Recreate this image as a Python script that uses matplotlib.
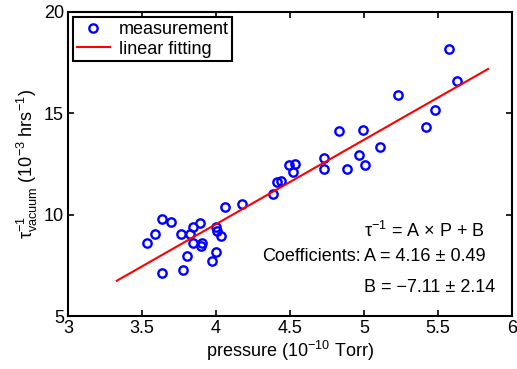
#!/usr/bin/python

import numpy as np
import matplotlib
matplotlib.use("Agg")
import matplotlib.pyplot as plt

plt.rcParams["font.family"] = ["Liberation Sans", "DejaVu Sans"]
plt.rcParams["mathtext.fontset"] = "custom"
plt.rcParams["mathtext.rm"] = "Liberation Sans"
plt.rcParams["mathtext.it"] = "Liberation Sans:italic"
plt.rcParams["mathtext.default"] = "regular"

FS = 13

# measured points (pressure in 1e-10 Torr, rate in 1e-3 / hrs)
pressure = [3.536, 3.586, 3.635, 3.698, 3.635, 3.777, 3.767, 3.807, 3.826, 3.848,
            3.889, 3.846, 3.909, 3.897, 4.000, 4.007, 4.037, 4.000, 3.976, 4.061,
            4.179, 4.387, 4.414, 4.437, 4.491, 4.532, 4.518, 4.730, 4.730, 4.829,
            4.887, 4.991, 4.968, 5.009, 5.111, 5.230, 5.482, 5.419, 5.572, 5.630]
rate = [8.59, 9.05, 9.80, 9.62, 7.13, 7.27, 9.06, 7.94, 9.07, 9.39,
        9.60, 8.62, 8.62, 8.44, 9.37, 9.17, 8.95, 8.16, 7.73, 10.37,
        10.52, 11.02, 11.61, 11.68, 12.47, 12.50, 12.11, 12.80, 12.24, 14.14,
        12.27, 14.18, 12.96, 12.47, 13.33, 15.89, 15.17, 14.31, 18.16, 16.58]

# fitted line end points
fit_x = [3.33, 5.84]
fit_y = [6.74, 17.19]


def main():
  fig = plt.figure(figsize=(5.17, 3.69), dpi=100)
  ax = fig.add_axes([0.1315, 0.1436, 0.8585, 0.8239])

  ax.plot(pressure, rate, 'o', ls='none', mfc='none', mec='#0000ff',
          ms=6, mew=1.7, label="measurement")
  ax.plot(fit_x, fit_y, '-', color='#ff0000', lw=1.5, label="linear fitting")

  ax.set_xlim(3, 6)
  ax.set_ylim(5, 20)
  ax.set_xticks([3, 3.5, 4, 4.5, 5, 5.5, 6])
  ax.set_xticklabels(["3", "3.5", "4", "4.5", "5", "5.5", "6"])
  ax.set_yticks([5, 10, 15, 20])

  ax.tick_params(direction='in', top=True, right=True, length=4, width=1.2,
                 labelsize=FS, pad=3)
  for sp in ax.spines.values():
    sp.set_linewidth(1.5)

  ax.set_xlabel(r"pressure (10$^{-10}$ Torr)", fontsize=FS, labelpad=1)
  ax.set_ylabel(r"τ$^{-1}_{vacuum}$ (10$^{-3}$ hrs$^{-1}$)", fontsize=FS,
                labelpad=3)

  ax.text(5.0, 9.2, r"τ$^{-1}$ = A × P + B", fontsize=FS, va='center',
          ha='left')
  ax.text(4.98, 7.96, "Coefficients:", fontsize=FS, va='center', ha='right')
  ax.text(5.0, 7.96, "A = 4.16 ± 0.49", fontsize=FS, va='center', ha='left')
  ax.text(5.0, 6.43, "B = −7.11 ± 2.14", fontsize=FS, va='center', ha='left')

  leg = ax.legend(loc='upper left', fontsize=FS, fancybox=False,
                  borderaxespad=0.3, handlelength=1.8, borderpad=0.2,
                  labelspacing=0.15, handletextpad=0.5, framealpha=1,
                  numpoints=1)
  leg.get_frame().set_edgecolor('black')
  leg.get_frame().set_linewidth(1.5)

  fig.savefig("out.png", dpi=100)


if __name__ == "__main__":
  main()
